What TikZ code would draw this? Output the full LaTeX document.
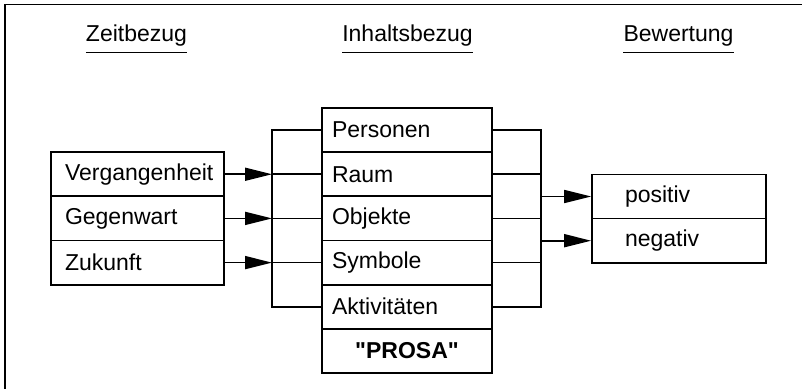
\documentclass[tikz,border=0pt]{standalone}
\usepackage{fontspec}
\setmainfont{Liberation Sans}[Ligatures=TeXOff]
\usetikzlibrary{arrows.meta}
\begin{document}
\begin{tikzpicture}[x=1pt,y=-1pt,
  txt/.style={font=\fontsize{23}{27}\selectfont},
  cell/.style={draw, line width=1.7pt, minimum height=44.17pt, inner sep=0pt, txt},
  lcell/.style={cell, minimum width=173pt, text width=145pt, align=left},
  mcell/.style={cell, minimum width=170pt, text width=150pt, align=left},
  rcell/.style={cell, minimum width=174pt, text width=108pt, align=left},
  head/.style={txt, anchor=base, inner sep=0pt},
  uline/.style={line width=1.5pt},
  conn/.style={line width=1.7pt},
  arr/.style={conn, -{Triangle[length=27pt,width=13pt]}}
]
\useasboundingbox (0,0) rectangle (802,389);
% frame
\draw[line width=1.7pt] (802,4.5) -- (5,4.5) -- (5,389);
% headings
\node[head] (zt) at (136.5,41) {Zeitbezug};
\node[head] (in) at (407.5,41) {Inhaltsbezug};
\node[head] (bw) at (678.5,41) {Bewertung};
\foreach \h in {zt,in,bw}
  \draw[uline] ([yshift=-11.5pt]\h.base west) -- ([yshift=-11.5pt]\h.base east);
% left box
\node[lcell] (v) at (137.5,174.25) {Vergangenheit};
\node[lcell] (g) at (137.5,218.4) {Gegenwart};
\node[lcell] (z) at (137.5,262.6) {Zukunft};
% middle box
\node[mcell] (pe) at (407,130.1) {Personen};
\node[mcell] (ra) at (407,174.25) {Raum};
\node[mcell] (ob) at (407,218.4) {Objekte};
\node[mcell] (sy) at (407,262.6) {Symbole};
\node[mcell] (ak) at (407,306.75) {Aktivitäten};
\node[cell, minimum width=170pt, text width=150pt, align=center] (pr) at (407,350.9) {\textbf{"PROSA"}};
% right box
\node[rcell] (po) at (679,196.5) {positiv};
\node[rcell] (ne) at (679,240.7) {negativ};
% buses
\coordinate (lb) at (272,0);
\coordinate (rb) at (541,0);
\draw[conn] (pe.west) -| (lb |- ak.west) -- (ak.west);
\foreach \n in {ra,ob,sy} \draw[conn] (lb |- \n.west) -- (\n.west);
\foreach \n in {v,g,z} \draw[arr] (\n.east) -- (\n.east -| lb);
\draw[conn] (pe.east) -| (rb |- ak.east) -- (ak.east);
\foreach \n in {ra,ob,sy} \draw[conn] (\n.east) -- (\n.east -| rb);
\foreach \n in {po,ne} \draw[arr] (rb |- \n.west) -- (\n.west);
\end{tikzpicture}
\end{document}
